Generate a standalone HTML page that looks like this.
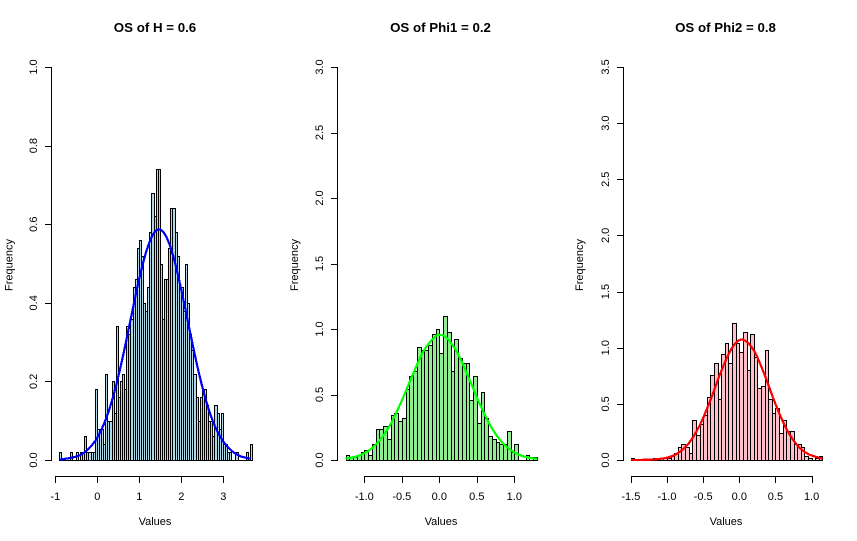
<!DOCTYPE html>
<html lang="en">
<head>
<meta charset="utf-8">
<title>OS histograms</title>
<style>
html,body{margin:0;padding:0;background:#fff;}
svg{display:block;}
text{font-family:"Liberation Sans",Arial,sans-serif;fill:#000;}
.title{font-size:13.3px;font-weight:bold;text-anchor:middle;}
.lab{font-size:11px;text-anchor:middle;}
</style>
</head>
<body>
<svg id="chart" width="857" height="541" viewBox="0 0 857 541" xmlns="http://www.w3.org/2000/svg">
  <text class="title" x="155" y="32">OS of H = 0.6</text>
  <text class="title" x="440.5" y="32">OS of Phi1 = 0.2</text>
  <text class="title" x="725.5" y="32">OS of Phi2 = 0.8</text>
  <text class="lab" x="155" y="525">Values</text>
  <text class="lab" x="441" y="525">Values</text>
  <text class="lab" x="726" y="525">Values</text>
  <text class="lab" transform="translate(12.5,265) rotate(-90)">Frequency</text>
  <text class="lab" transform="translate(298,265) rotate(-90)">Frequency</text>
  <text class="lab" transform="translate(583,265) rotate(-90)">Frequency</text>
</svg>
<script>
// Sample size per histogram and bin width
const sampleSize = 1000;
const binWidth = 0.05;

// Panel H
const hBinStart = -0.91;
const hCounts = [1,0,0,0,0,1,0,0,1,0,1,1,3,1,1,1,1,9,4,4,4,2,11,5,5,10,6,17,8,10,11,9,17,16,18,22,23,27,28,26,20,19,22,29,34,31,37,37,25,18,23,23,27,32,32,29,26,22,22,19,25,20,16,14,11,8,5,8,9,9,7,5,5,3,7,6,4,6,2,2,1,1,0,0,1,0,0,0,0,1,0,2];
const hCurveX = [-0.9,-0.6,-0.4,-0.2,0,0.2,0.4,0.6,0.8,1,1.2,1.4,1.6,1.8,2,2.2,2.4,2.6,2.8,3,3.2,3.4,3.65];
const hCurveY = [0.001,0.006,0.013,0.029,0.057,0.103,0.17,0.259,0.361,0.462,0.542,0.584,0.576,0.522,0.433,0.33,0.23,0.147,0.086,0.047,0.023,0.01,0.003];
const hXTicks = [-1,0,1,2,3];
const hXLabels = ["-1","0","1","2","3"];
const hYTicks = [0,0.2,0.4,0.6,0.8,1];
const hYLabels = ["0.0","0.2","0.4","0.6","0.8","1.0"];

// Panel Phi1
const p1BinStart = -1.25;
const p1Counts = [2,1,1,2,3,4,2,6,12,12,13,8,17,18,15,16,27,32,34,43,42,42,44,48,50,41,55,49,34,46,39,37,37,23,32,14,26,16,9,8,7,6,6,11,3,6,0,0,2,0,1];
const p1CurveX = [-1.25,-1.1,-0.95,-0.8,-0.65,-0.5,-0.35,-0.2,-0.05,0.01,0.1,0.25,0.4,0.55,0.7,0.85,1,1.15,1.31];
const p1CurveY = [0.01,0.028,0.068,0.146,0.274,0.453,0.658,0.841,0.944,0.954,0.932,0.809,0.617,0.414,0.244,0.127,0.058,0.023,0.008];
const p1XTicks = [-1,-0.5,0,0.5,1];
const p1XLabels = ["-1.0","-0.5","0.0","0.5","1.0"];
const p1YTicks = [0,0.5,1,1.5,2,2.5,3];
const p1YLabels = ["0.0","0.5","1.0","1.5","2.0","2.5","3.0"];

// Panel Phi2
const p2BinStart = -1.5;
const p2Counts = [1,0,0,0,0,0,1,1,1,1,1,2,3,6,7,6,3,18,11,16,20,28,38,43,27,47,52,43,61,52,48,57,40,56,46,32,33,49,27,21,23,12,18,13,13,7,7,6,2,1,0,1,2];
const p2CurveX = [-1.5,-1.2,-1,-0.85,-0.7,-0.55,-0.4,-0.25,-0.1,0.04,0.2,0.35,0.5,0.65,0.8,0.95,1.15];
const p2CurveY = [0,0.004,0.021,0.061,0.148,0.305,0.532,0.791,0.999,1.072,0.977,0.758,0.499,0.279,0.133,0.054,0.012];
const p2XTicks = [-1.5,-1,-0.5,0,0.5,1];
const p2XLabels = ["-1.5","-1.0","-0.5","0.0","0.5","1.0"];
const p2YTicks = [0,0.5,1,1.5,2,2.5,3,3.5];
const p2YLabels = ["0.0","0.5","1.0","1.5","2.0","2.5","3.0","3.5"];

const NS = 'http://www.w3.org/2000/svg';
const svg = document.getElementById('chart');

function make(tag, attrs, parent) {
  const el = document.createElementNS(NS, tag);
  for (const k in attrs) el.setAttribute(k, attrs[k]);
  parent.appendChild(el);
  return el;
}

function smoothPath(pts) {
  let d = 'M' + pts[0][0].toFixed(2) + ' ' + pts[0][1].toFixed(2);
  for (let i = 0; i < pts.length - 1; i++) {
    const p0 = pts[Math.max(i - 1, 0)], p1 = pts[i], p2 = pts[i + 1], p3 = pts[Math.min(i + 2, pts.length - 1)];
    const c1x = p1[0] + (p2[0] - p0[0]) / 6, c1y = p1[1] + (p2[1] - p0[1]) / 6;
    const c2x = p2[0] - (p3[0] - p1[0]) / 6, c2y = p2[1] - (p3[1] - p1[1]) / 6;
    d += 'C' + [c1x, c1y, c2x, c2y, p2[0], p2[1]].map(v => v.toFixed(2)).join(' ');
  }
  return d;
}

function drawPanel(p) {
  const x = v => p.x0 + v * p.xUnit;
  const y = v => 460 - v * p.yUnit;
  const snap = v => Math.round(v) + 0.5;

  const group = make('g', {}, svg);
  
  

  p.counts.forEach((c, i) => {
    const density = c / (sampleSize * binWidth);
    if (c === 0) {
      return;
    }
    const left = snap(x(p.binStart + i * binWidth));
    const right = snap(x(p.binStart + (i + 1) * binWidth));
    const top = snap(y(density));
    const bar = make('rect', {x: left, y: top, width: right - left, height: 460.5 - top, fill: p.fill, stroke: '#000', 'stroke-width': 1, 'shape-rendering': 'crispEdges'}, group);
    
    
  });
  const base = make('line', {x1: snap(x(p.binStart)), x2: snap(x(p.binStart + p.counts.length * binWidth)), y1: 460.5, y2: 460.5, stroke: '#000', 'shape-rendering': 'crispEdges'}, group);
  
  

  const curve = make('path', {d: smoothPath(p.curveX.map((v, i) => [x(v), y(p.curveY[i])])), fill: 'none', stroke: p.line, 'stroke-width': 2.2, 'stroke-linejoin': 'round', 'shape-rendering': 'crispEdges'}, group);
  
  

  const xLine = make('line', {x1: snap(x(p.xTicks[0])), x2: snap(x(p.xTicks[p.xTicks.length - 1])), y1: 476.5, y2: 476.5, stroke: '#000', 'shape-rendering': 'crispEdges'}, group);
  
  
  p.xTicks.forEach((t, i) => {
    const tick = make('line', {x1: snap(x(t)), x2: snap(x(t)), y1: 476, y2: 483, stroke: '#000', 'shape-rendering': 'crispEdges'}, group);
    
    
    const label = make('text', {x: x(t), y: 500, class: 'lab'}, group);
    label.textContent = p.xLabels[i];
    
    
  });

  const yLine = make('line', {x1: p.axisX + 0.5, x2: p.axisX + 0.5, y1: snap(y(p.yTicks[p.yTicks.length - 1])), y2: 460.5, stroke: '#000', 'shape-rendering': 'crispEdges'}, group);
  
  
  p.yTicks.forEach((t, i) => {
    const tick = make('line', {x1: p.axisX - 6, x2: p.axisX + 1, y1: snap(y(t)), y2: snap(y(t)), stroke: '#000', 'shape-rendering': 'crispEdges'}, group);
    
    
    const label = make('text', {transform: 'translate(' + (p.axisX - 14) + ',' + y(t) + ') rotate(-90)', class: 'lab'}, group);
    label.textContent = p.yLabels[i];
    
    
  });
}

drawPanel({name: 'h', x0: 97.3, xUnit: 42, yUnit: 393, axisX: 51, binStart: hBinStart, counts: hCounts, curveX: hCurveX, curveY: hCurveY, xTicks: hXTicks, xLabels: hXLabels, yTicks: hYTicks, yLabels: hYLabels, fill: '#ADD8E6', line: '#0000FF'});
drawPanel({name: 'phi1', x0: 439.3, xUnit: 75, yUnit: 131, axisX: 337, binStart: p1BinStart, counts: p1Counts, curveX: p1CurveX, curveY: p1CurveY, xTicks: p1XTicks, xLabels: p1XLabels, yTicks: p1YTicks, yLabels: p1YLabels, fill: '#90EE90', line: '#00FF00'});
drawPanel({name: 'phi2', x0: 739.3, xUnit: 72.3, yUnit: 112.3, axisX: 623, binStart: p2BinStart, counts: p2Counts, curveX: p2CurveX, curveY: p2CurveY, xTicks: p2XTicks, xLabels: p2XLabels, yTicks: p2YTicks, yLabels: p2YLabels, fill: '#FFC0CB', line: '#FF0000'});
</script>
</body>
</html>
